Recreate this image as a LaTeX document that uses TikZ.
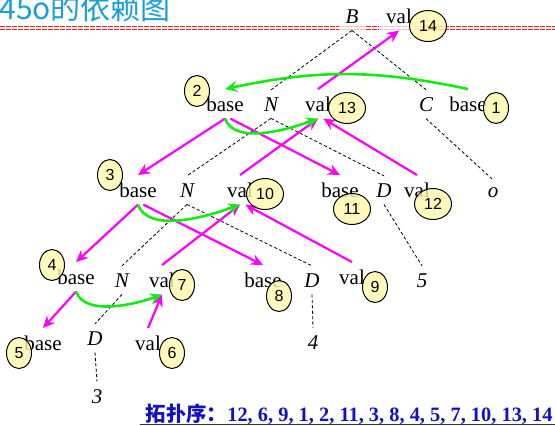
\documentclass[tikz,border=0pt]{standalone}
\usepackage{fontspec}
\setmainfont{Liberation Serif}
\setsansfont{Liberation Sans}
\newfontfamily\cjk{Noto Sans CJK SC}
\usetikzlibrary{shapes.geometric,arrows.meta}

\definecolor{titleblue}{RGB}{26,159,217}
\definecolor{orderblue}{RGB}{18,18,196}
\definecolor{markfill}{RGB}{255,249,170}
\definecolor{depgreen}{RGB}{20,235,20}
\definecolor{deppink}{RGB}{255,0,255}

\tikzset{
    tree label/.style={
      anchor=base,
      inner sep=3.5pt,
      font=\fontsize{10.5}{12}\selectfont
    },
    tree var/.style={
      tree label,
      font=\fontsize{10.5}{12}\selectfont\itshape
    },
    head box/.style={
      fill=white,
      fill opacity=0.7,
      text opacity=1
    },
    tree edge/.style={
      draw=black,
      line width=0.4pt,
      dash pattern=on 1.6pt off 1.1pt
    },
    dep arrow/.style={
      draw=deppink,
      line width=1.1pt,
      -{Stealth[length=6pt,width=5.5pt,inset=2pt]}
    },
    sib arrow/.style={
      dep arrow,
      draw=depgreen,
      line width=1.3pt
    },
    order mark/.style={
      ellipse,
      draw=black,
      line width=0.5pt,
      fill=markfill,
      fill opacity=0.8,
      text opacity=1,
      inner sep=0pt,
      font=\sffamily\fontsize{8}{9}\selectfont
    },
    wide mark/.style={
      order mark,
      minimum width=18.5pt,
      minimum height=15.5pt
    },
    tall mark/.style={
      order mark,
      minimum width=12.5pt,
      minimum height=15.5pt
    }
  }

\begin{document}
\begin{tikzpicture}[x=0.5pt,y=-0.5pt]
      \useasboundingbox (0,0) rectangle (555,425);

      % 标题
      \node[anchor=base west, inner sep=0pt, text=titleblue,
        font=\cjk\fontsize{15}{17}\selectfont] (title) at (-1,19.5) {45o的依赖图};
      \draw[draw=red!90, line width=0.55pt, double=white, double distance=0.7pt,
        dash pattern=on 2.4pt off 0.6pt] (0,28) -- (555,28);

      % 树
      \node[tree var, head box] (B) at (352,23) {B};
      \node[tree label, head box] (valB) at (399,23) {val};

      \node[tree label] (baseN1) at (225,111) {base};
      \node[tree var] (N1) at (271,111) {N};
      \node[tree label] (valN1) at (318,111) {val};
      \node[tree var] (C1) at (426,111) {C};
      \node[tree label] (baseC) at (468,111) {base};

      \node[tree label] (baseN2) at (138,197) {base};
      \node[tree var] (N2) at (187,197) {N};
      \node[tree label] (valN2) at (240,197) {val};
      \node[tree label] (baseD2) at (340,197) {base};
      \node[tree var] (D2) at (384,197) {D};
      \node[tree label] (valD2) at (417,197) {val};
      \node[tree var] (o2) at (493,197) {o};

      \node[tree label] (baseN3) at (76,284) {base};
      \node[tree var] (N3) at (122,287) {N};
      \node[tree label] (valN3) at (162,287) {val};
      \node[tree label] (baseD3) at (263,287) {base};
      \node[tree var] (D3) at (312,287) {D};
      \node[tree label] (valD3) at (352,284) {val};
      \node[tree var] (five) at (422,287) {5};

      \node[tree label] (baseN4) at (43,350) {base};
      \node[tree var] (D4) at (95,345) {D};
      \node[tree label] (valN4) at (148,350) {val};
      \node[tree var] (four) at (313,349) {4};

      \node[tree var] (three) at (97,403) {3};

      \draw[tree edge] (B.south) -- (N1.north);
      \draw[tree edge] (B.south) -- (C1.north);
      \draw[tree edge] (N1.south) -- (N2.north);
      \draw[tree edge] (N1.south) -- (D2.north);
      \draw[tree edge] (C1.south) -- (o2.north);
      \draw[tree edge] (N2.south) -- (N3.north);
      \draw[tree edge] (N2.south) -- (D3.north);
      \draw[tree edge] (D2.south) -- (five.north);
      \draw[tree edge] (N3.south) -- (D4.north);
      \draw[tree edge] (D3.south) -- (four.north);
      \draw[tree edge] (D4.south) -- (three.north);

      % 依赖
      \draw[dep arrow] (valN1.north) -- (valB.south);
      \draw[dep arrow] (baseN1.south) -- (baseN2.north);
      \draw[dep arrow] (baseN1.-70) -- (baseD2.north);
      \draw[dep arrow] (valN2.north) -- (valN1.south);
      \draw[dep arrow] (valD2.north) -- (valN1.-70);
      \draw[dep arrow] (baseN2.south) -- (baseN3.north);
      \draw[dep arrow] (baseN2.-70) -- (baseD3.north);
      \draw[dep arrow] (valN3.north) -- (valN2.south);
      \draw[dep arrow] (valD3.north) -- (valN2.-70);
      \draw[dep arrow] (baseN3.south) -- (baseN4.north);
      \draw[dep arrow] (valN4.north) -- (valN3.south);

      \draw[sib arrow] (baseC.north) to[bend right=12] (baseN1.north);
      \draw[sib arrow] (baseN1.south) to[out=-70, in=200, looseness=0.8] (valN1.south);
      \draw[sib arrow] (baseN2.south) to[out=-70, in=200, looseness=0.8] (valN2.south);
      \draw[sib arrow] (baseN3.south) to[out=-70, in=200, looseness=0.8] (valN3.south);

      % 序号
      \node[wide mark] (c14) at (428,26) {14};
      \node[wide mark] (c13) at (347,108) {13};
      \node[tall mark] (c1) at (496,108) {1};
      \node[tall mark] (c2) at (197,91) {2};
      \node[tall mark] (c3) at (110,175) {3};
      \node[wide mark] (c10) at (265,194) {10};
      \node[wide mark] (c11) at (352,209) {11};
      \node[wide mark] (c12) at (433,204) {12};
      \node[tall mark] (c4) at (52,265) {4};
      \node[tall mark] (c7) at (182,285) {7};
      \node[tall mark] (c8) at (279,296) {8};
      \node[tall mark] (c9) at (375,287) {9};
      \node[tall mark] (c5) at (19,353) {5};
      \node[tall mark] (c6) at (172,353) {6};

      % 拓扑序
      \node[anchor=base east, inner sep=0pt, text=orderblue,
        font=\fontsize{10.2}{12}\selectfont\bfseries] (order) at (553,421.5)
        {{\cjk 拓扑序：}12, 6, 9, 1, 2, 11, 3, 8, 4, 5, 7, 10, 13, 14};
      \draw[black!80, line width=0.7pt] (140,424.5) -- (555,424.5);
    \end{tikzpicture}
\end{document}
